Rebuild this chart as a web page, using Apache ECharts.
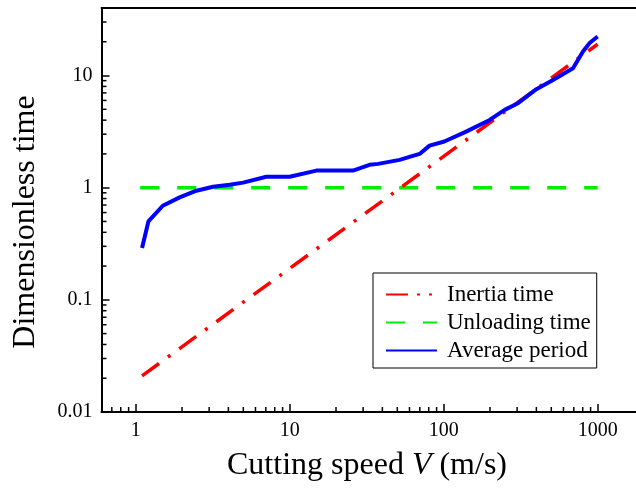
<!DOCTYPE html>
<html>
<head>
<meta charset="utf-8">
<script src="https://cdn.jsdelivr.net/npm/echarts@6/dist/echarts.min.js"></script>
<style>
html,body{margin:0;padding:0;background:#fff;}
#chart{width:636px;height:493px;}
</style>
</head>
<body>
<div id="chart"></div>
<script>
// ---- Data ----
const seriesNames = ['Inertia time', 'Unloading time', 'Average period'];

const speedInertia = [1.1, 1000];
const inertiaTime = [0.021, 19];

const speedUnloading = [1.07, 1000];
const unloadingTime = [1, 1];

const speedAverage = [1.1, 1.21, 1.5, 1.93, 2.48, 3.18, 4.08, 4.98, 7.06, 10, 14.9, 25.8, 33, 37.5, 51.8, 60, 69.8, 81, 101, 140, 199, 249, 304, 400, 513, 692, 803, 887, 1000];
const averagePeriod = [0.29, 0.5, 0.69, 0.82, 0.94, 1.02, 1.06, 1.11, 1.25, 1.25, 1.42, 1.42, 1.6, 1.63, 1.77, 1.88, 2.0, 2.37, 2.58, 3.16, 4.02, 4.94, 5.67, 7.56, 9.14, 11.6, 16.4, 19.5, 22.3];

const xTickLabels = ['1', '10', '100', '1000'];
const yTickLabels = ['0.01', '0.1', '1', '10'];

const xRange = [0.6, 2000];
const yRange = [0.01, 40];

// ---- Helpers ----
function zip(xs, ys) { return xs.map((x, i) => [x, ys[i]]); }
function minorTicks(lo, hi) {
  const out = [];
  for (let e = -3; e <= 4; e++) {
    for (let m = 2; m <= 9; m++) {
      const v = m * Math.pow(10, e);
      if (v > lo * 1.0001 && v < hi * 0.9999) out.push(v);
    }
  }
  return out;
}
function decadeLabel(labels) {
  return function (v) {
    const l = Math.log10(v);
    const e = Math.round(l);
    if (Math.abs(l - e) > 1e-6) return '';
    const s = e < 0 ? v.toFixed(-e) : String(Math.round(v));
    return labels.indexOf(s) >= 0 ? s : '';
  };
}

const FONT = 'Liberation Serif';
const axisLineStyle = { color: '#000', width: 2 };

const chart = echarts.init(document.getElementById('chart'), null, { renderer: 'canvas' });

const option = {
  backgroundColor: '#fff',
  animation: false,
  grid: { left: 101.5, top: 8, width: 542.5, height: 404, containLabel: false, outerBoundsMode: 'none' },
  xAxis: [
    {
      type: 'log', logBase: 10, min: xRange[0], max: xRange[1], position: 'bottom',
      axisLine: { show: true, lineStyle: axisLineStyle },
      axisTick: { show: true, inside: true, length: 8, lineStyle: { color: '#000', width: 1.5 } },
      axisLabel: { formatter: decadeLabel(xTickLabels), fontFamily: FONT, fontSize: 20, color: '#000', margin: 9, showMaxLabel: false },
      splitLine: { show: false }
    },
    {
      type: 'log', logBase: 10, min: xRange[0], max: xRange[1], position: 'top',
      axisLine: { show: true, lineStyle: axisLineStyle },
      axisTick: { show: false }, axisLabel: { show: false }, splitLine: { show: false }
    }
  ],
  yAxis: [
    {
      type: 'log', logBase: 10, min: yRange[0], max: yRange[1], position: 'left',
      axisLine: { show: true, lineStyle: axisLineStyle },
      axisTick: { show: true, inside: true, length: 8, lineStyle: { color: '#000', width: 1.5 } },
      axisLabel: { formatter: decadeLabel(yTickLabels), fontFamily: FONT, fontSize: 20, color: '#000', margin: 9 },
      splitLine: { show: false }
    }
  ],
  legend: {
    orient: 'vertical', left: 373, top: 273,
    padding: [10, 6, 6, 12], itemGap: 5, itemWidth: 51, itemHeight: 14,
    borderColor: '#000', borderWidth: 1, borderRadius: 0, backgroundColor: '#fff',
    itemStyle: { color: 'rgba(0,0,0,0)', borderWidth: 0, opacity: 0 },
    textStyle: { fontFamily: FONT, fontSize: 23, color: '#000', lineHeight: 22, padding: [0, 0, 0, 5] },
    data: [
      { name: seriesNames[0], lineStyle: { type: [22, 9, 3, 9, 3, 9] } },
      { name: seriesNames[1] },
      { name: seriesNames[2] }
    ]
  },
  graphic: [
    {
      type: 'text', x: 367, y: 466, z: 10,
      style: {
        text: 'Cutting speed {i|V} (m/s)',
        fontFamily: FONT, fontSize: 32, fill: '#000', align: 'center', verticalAlign: 'middle',
        rich: { i: { fontFamily: FONT, fontSize: 32, fontStyle: 'italic', fill: '#000' } }
      }
    },
    {
      type: 'text', x: 26, y: 222, rotation: Math.PI / 2, z: 10,
      style: {
        text: 'Dimensionless time',
        fontFamily: FONT, fontSize: 32, fill: '#000', align: 'center', verticalAlign: 'middle'
      }
    }
  ],
  series: [
    {
      name: seriesNames[0], type: 'line', data: zip(speedInertia, inertiaTime),
      symbol: 'none', showSymbol: false, z: 3,
      lineStyle: { color: '#ff0000', width: 3.5, type: [21, 11, 3, 11] },
      itemStyle: { color: '#ff0000' }
    },
    {
      name: seriesNames[1], type: 'line', data: zip(speedUnloading, unloadingTime),
      symbol: 'none', showSymbol: false, z: 2,
      lineStyle: { color: '#00ee00', width: 3.5, type: [19, 18] },
      itemStyle: { color: '#00ee00' }
    },
    {
      name: seriesNames[2], type: 'line', data: zip(speedAverage, averagePeriod),
      symbol: 'none', showSymbol: false, z: 4,
      lineStyle: { color: '#0000ff', width: 4 },
      itemStyle: { color: '#0000ff' }
    },
    {
      name: 'xMinor', type: 'custom', coordinateSystem: 'cartesian2d', silent: true, z: 5,
      data: minorTicks(xRange[0], xRange[1]).map(v => [v, yRange[0]]),
      renderItem: function (params, api) {
        const p = api.coord([api.value(0), api.value(1)]);
        return { type: 'line', shape: { x1: p[0], y1: p[1], x2: p[0], y2: p[1] - 5 }, style: { stroke: '#000', lineWidth: 1.5 } };
      }
    },
    {
      name: 'yMinor', type: 'custom', coordinateSystem: 'cartesian2d', silent: true, z: 5,
      data: minorTicks(yRange[0], yRange[1]).map(v => [xRange[0], v]),
      renderItem: function (params, api) {
        const p = api.coord([api.value(0), api.value(1)]);
        return { type: 'line', shape: { x1: p[0], y1: p[1], x2: p[0] + 5, y2: p[1] }, style: { stroke: '#000', lineWidth: 1.5 } };
      }
    }
  ]
};

chart.setOption(option);
</script>
</body>
</html>
